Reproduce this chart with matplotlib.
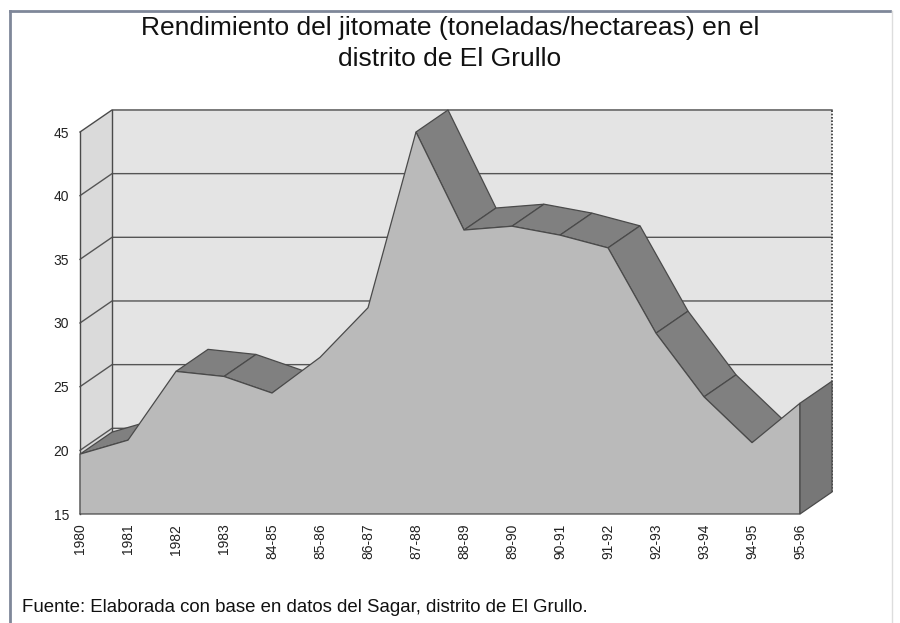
import matplotlib
matplotlib.use("Agg")
import matplotlib.pyplot as plt
from matplotlib.patches import Polygon
from matplotlib.lines import Line2D

plt.rcParams['font.family'] = ['Liberation Sans', 'DejaVu Sans']

# ---- data ----
categories = ["1980", "1981", "1982", "1983", "84-85", "85-86", "86-87", "87-88",
              "88-89", "89-90", "90-91", "91-92", "92-93", "93-94", "94-95", "95-96"]
values = [19.7, 20.8, 26.2, 25.8, 24.5, 27.3, 31.2, 45.0,
          37.3, 37.6, 36.9, 35.9, 29.2, 24.2, 20.6, 23.7]
yticks = [15, 20, 25, 30, 35, 40, 45]
title_l1 = "Rendimiento del jitomate (toneladas/hectareas) en el"
title_l2 = "distrito de El Grullo"
source = "Fuente: Elaborada con base en datos del Sagar, distrito de El Grullo."

# ---- style / geometry ----
YMIN, YMAX = 15, 45
DX, DY = 0.667, 1.73          # oblique depth offset (data units)
c_front = "#bababa"
c_top = "#808080"
c_side = "#777777"
c_wall = "#e4e4e4"
c_lwall = "#dadada"
c_edge = "#4a4a4a"
c_grid = "#555555"

fig = plt.figure(figsize=(9, 6.23), dpi=100)
W, H = 900, 623
ax = fig.add_axes([80 / W, (H - 514) / H, 720 / W, (514 - 132) / H])
n = len(categories)
xs = list(range(n))
ax.set_xlim(0, n - 1)
ax.set_ylim(YMIN, YMAX)
for s in ax.spines.values():
    s.set_visible(False)
ax.patch.set_alpha(0)

# back wall
xr = n - 1
ax.add_patch(Polygon([(DX, YMIN + DY), (xr + DX, YMIN + DY), (xr + DX, YMAX + DY), (DX, YMAX + DY)],
                     closed=True, facecolor=c_wall, edgecolor="none", clip_on=False, zorder=1))
# left wall
ax.add_patch(Polygon([(0, YMIN), (DX, YMIN + DY), (DX, YMAX + DY), (0, YMAX)],
                     closed=True, facecolor=c_lwall, edgecolor="none", clip_on=False, zorder=1))
# gridlines
for v in yticks[1:-1]:
    ax.add_line(Line2D([0, DX, xr + DX], [v, v + DY, v + DY], color=c_grid, lw=1.0,
                       clip_on=False, zorder=2))
# wall edges
ax.add_line(Line2D([0, DX, xr + DX], [YMAX, YMAX + DY, YMAX + DY], color=c_edge, lw=1.0,
                   clip_on=False, zorder=2))
ax.add_line(Line2D([DX, DX], [YMIN + DY, YMAX + DY], color=c_edge, lw=1.0, clip_on=False, zorder=2))
ax.add_line(Line2D([0, 0], [YMIN, YMAX], color=c_edge, lw=1.0, clip_on=False, zorder=2))
ax.add_line(Line2D([0, DX], [YMIN, YMIN + DY], color=c_edge, lw=0.8, clip_on=False, zorder=2))
ax.add_line(Line2D([xr + DX, xr + DX], [YMIN + DY, YMAX + DY], color="#333333", lw=1.2,
                   ls=(0, (1, 1)), clip_on=False, zorder=2))

# top strips (only faces turned towards the viewer)
for i in range(n - 1):
    v0, v1 = values[i], values[i + 1]
    if (v1 - v0) < DY / DX:
        ax.add_patch(Polygon([(xs[i], v0), (xs[i + 1], v1), (xs[i + 1] + DX, v1 + DY), (xs[i] + DX, v0 + DY)],
                             closed=True, facecolor=c_top, edgecolor=c_edge, lw=0.9,
                             clip_on=False, zorder=3))

# front face
front = [(xs[0], YMIN)] + list(zip(xs, values)) + [(xs[-1], YMIN)]
ax.add_patch(Polygon(front, closed=True, facecolor=c_front, edgecolor=c_edge, lw=0.9,
                     clip_on=False, zorder=4))
# right side face
vl = values[-1]
ax.add_patch(Polygon([(xr, YMIN), (xr + DX, YMIN + DY), (xr + DX, vl + DY), (xr, vl)],
                     closed=True, facecolor=c_side, edgecolor=c_edge, lw=0.9,
                     clip_on=False, zorder=5))

# ticks
ax.set_yticks(yticks)
ax.set_yticklabels([str(t) for t in yticks], fontsize=10)
ax.set_xticks(xs)
ax.set_xticklabels(categories, rotation=90, fontsize=10, va="top", ha="center")
ax.tick_params(axis="both", length=0, colors="#222222")
ax.tick_params(axis="y", pad=8)
ax.tick_params(axis="x", pad=7)

# titles and source
fig.text(0.5, 1 - 28 / H, title_l1, ha="center", va="center", fontsize=19, color="#111111")
fig.text(0.5, 1 - 59 / H, title_l2, ha="center", va="center", fontsize=19, color="#111111")
fig.text(22 / W, 1 - 607 / H, source, ha="left", va="center", fontsize=13.4, color="#111111")

# frame
fr = "#7f8799"
fig.add_artist(Line2D([10 / W, 10 / W], [0, 1 - 11 / H], color=fr, lw=2, transform=fig.transFigure))
fig.add_artist(Line2D([10 / W, 890 / W], [1 - 11 / H, 1 - 11 / H], color=fr, lw=2, transform=fig.transFigure))
fig.add_artist(Line2D([892 / W, 892 / W], [0, 1 - 11 / H], color="#dddddd", lw=1, transform=fig.transFigure))

fig.savefig("out.png", dpi=100, facecolor="white")
